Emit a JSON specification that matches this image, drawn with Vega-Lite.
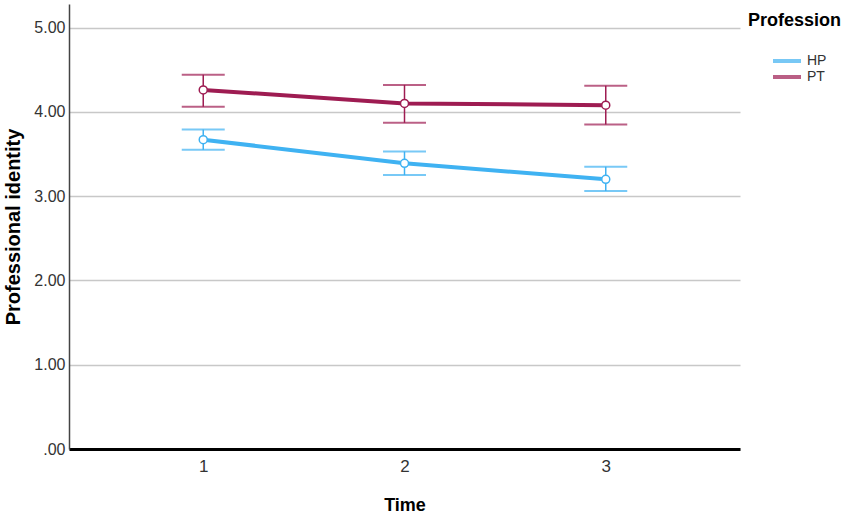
{
  "$schema": "https://vega.github.io/schema/vega-lite/v6.json",
  "autosize": {"type": "none"},
  "width": 671,
  "height": 445,
  "padding": {"left": 69, "top": 4, "right": 110, "bottom": 67},
  "background": "white",
  "config": {
    "view": {"stroke": null},
    "font": "Liberation Sans",
    "axis": {"labelFont": "Liberation Sans", "titleFont": "Liberation Sans"}
  },
  "data": {
    "values": [
      {"Time": "1", "Profession": "HP", "mean": 3.67, "lo": 3.55, "hi": 3.79},
      {"Time": "2", "Profession": "HP", "mean": 3.39, "lo": 3.25, "hi": 3.53},
      {"Time": "3", "Profession": "HP", "mean": 3.20, "lo": 3.06, "hi": 3.35},
      {"Time": "1", "Profession": "PT", "mean": 4.26, "lo": 4.06, "hi": 4.44},
      {"Time": "2", "Profession": "PT", "mean": 4.10, "lo": 3.87, "hi": 4.32},
      {"Time": "3", "Profession": "PT", "mean": 4.08, "lo": 3.85, "hi": 4.31}
    ]
  },
  "encoding": {
    "x": {
      "field": "Time", "type": "ordinal",
      "scale": {"type": "point", "padding": 0.667},
      "axis": {
        "title": "Time", "labelAngle": 0, "ticks": false,
        "domainColor": "black", "domainWidth": 3,
        "labelFontSize": 17, "labelColor": "#333333", "labelPadding": 9,
        "titleFontSize": 18, "titleFontWeight": "bold", "titleColor": "black", "titlePadding": 22
      }
    },
    "color": {
      "field": "Profession", "type": "nominal",
      "scale": {"domain": ["HP", "PT"], "range": ["#3FB2F2", "#9E1C52"]},
      "legend": {
        "title": "Profession", "orient": "none", "legendX": 679, "legendY": 8,
        "symbolType": "M-2.8,0H2.8", "symbolSize": 100, "symbolStrokeWidth": 4,
        "symbolOffset": 32, "labelOffset": 13, "rowPadding": 0,
        "titleFontSize": 18, "titleFontWeight": "bold", "titleColor": "black",
        "titlePadding": 24, "labelFontSize": 14, "labelColor": "#333333",
        "titleFont": "Liberation Sans", "labelFont": "Liberation Sans"
      }
    }
  },
  "layer": [
    {
      "mark": {"type": "rule", "strokeWidth": 1.5},
      "encoding": {
        "y": {
          "field": "lo", "type": "quantitative",
          "scale": {"domain": [0, 5.28], "nice": false, "zero": true},
          "axis": {
            "title": "Professional identity", "values": [0, 1, 2, 3, 4, 5],
            "labelExpr": "datum.value == 0 ? '.00' : format(datum.value, '.2f')",
            "ticks": false, "grid": true, "gridColor": "#c8c8c8", "gridWidth": 1.5,
            "domainColor": "#444444", "domainWidth": 1.5,
            "labelFontSize": 16, "labelColor": "#333333", "labelPadding": 4,
            "titleFontSize": 20, "titleFontWeight": "bold", "titleColor": "black", "titlePadding": 10
          }
        },
        "y2": {"field": "hi"}
      }
    },
    {
      "mark": {"type": "tick", "size": 43, "thickness": 2},
      "encoding": {"y": {"field": "lo", "type": "quantitative"}}
    },
    {
      "mark": {"type": "tick", "size": 43, "thickness": 2},
      "encoding": {"y": {"field": "hi", "type": "quantitative"}}
    },
    {
      "mark": {"type": "line", "strokeWidth": 4},
      "encoding": {"y": {"field": "mean", "type": "quantitative"}}
    },
    {
      "mark": {"type": "point", "filled": false, "size": 64, "strokeWidth": 1.5, "fill": "white", "opacity": 1},
      "encoding": {"y": {"field": "mean", "type": "quantitative"}}
    }
  ]
}
